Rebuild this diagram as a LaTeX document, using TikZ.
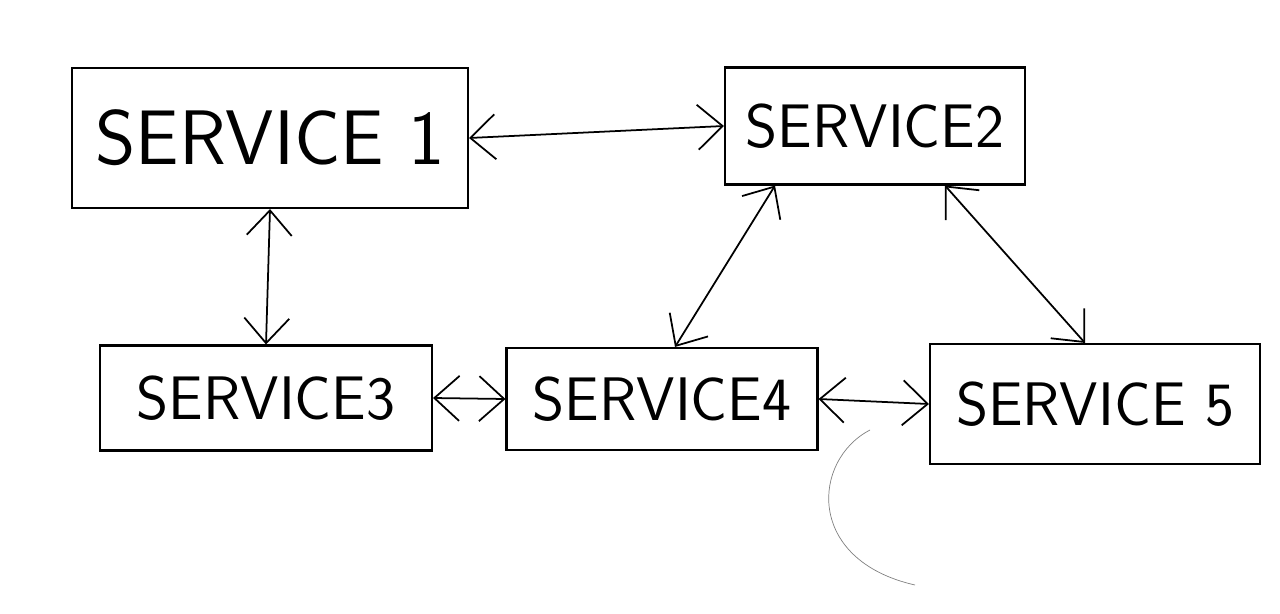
\documentclass[tikz,border=0pt]{standalone}
\usepackage{tikz}
\usetikzlibrary{arrows.meta}

\begin{document}
\begin{tikzpicture}[
        x=0.02cm, y=0.02cm,
        every node/.style={draw, line width=1.2pt, inner sep=0pt, font=\sffamily},
        svcbox/.style={minimum width=#1},
        link/.style={draw, line width=1pt, {Straight Barb[length=5mm,width=9mm]}-{Straight Barb[length=5mm,width=9mm]}}
    ]
    \useasboundingbox (0,0) rectangle (1280,613);
    \node[svcbox=7.92cm, minimum height=2.8cm, font=\sffamily\fontsize{44}{52}\selectfont] (s1) at (270,475) {SERVICE 1};
    \node[svcbox=6cm, minimum height=2.34cm, font=\sffamily\fontsize{35}{42}\selectfont] (s2) at (875,487) {SERVICE2};
    \node[svcbox=6.64cm, minimum height=2.1cm, font=\sffamily\fontsize{35}{42}\selectfont] (s3) at (266,215) {SERVICE3};
    \node[svcbox=6.22cm, minimum height=2.04cm, font=\sffamily\fontsize{35}{42}\selectfont] (s4) at (662,214) {SERVICE4};
    \node[svcbox=6.6cm, minimum height=2.4cm, font=\sffamily\fontsize{35}{42}\selectfont] (s5) at (1095,209) {SERVICE 5};

    \path[link] (s1.east) -- (s2.west);
    \path[link] (s1.south) -- (s3.north);
    \path[link] (s3.east) -- (s4.west);
    \path[link] (s4.east) -- (s5.west);
    \path[link] ([xshift=-2cm]s2.south) -- ([xshift=0.26cm]s4.north);
    \path[link] ([xshift=1.4cm]s2.south) -- ([xshift=-0.2cm]s5.north);

    \draw[thin, gray] (870,183) .. controls (812,153) and (805,53) .. (915,28);
\end{tikzpicture}
\end{document}
